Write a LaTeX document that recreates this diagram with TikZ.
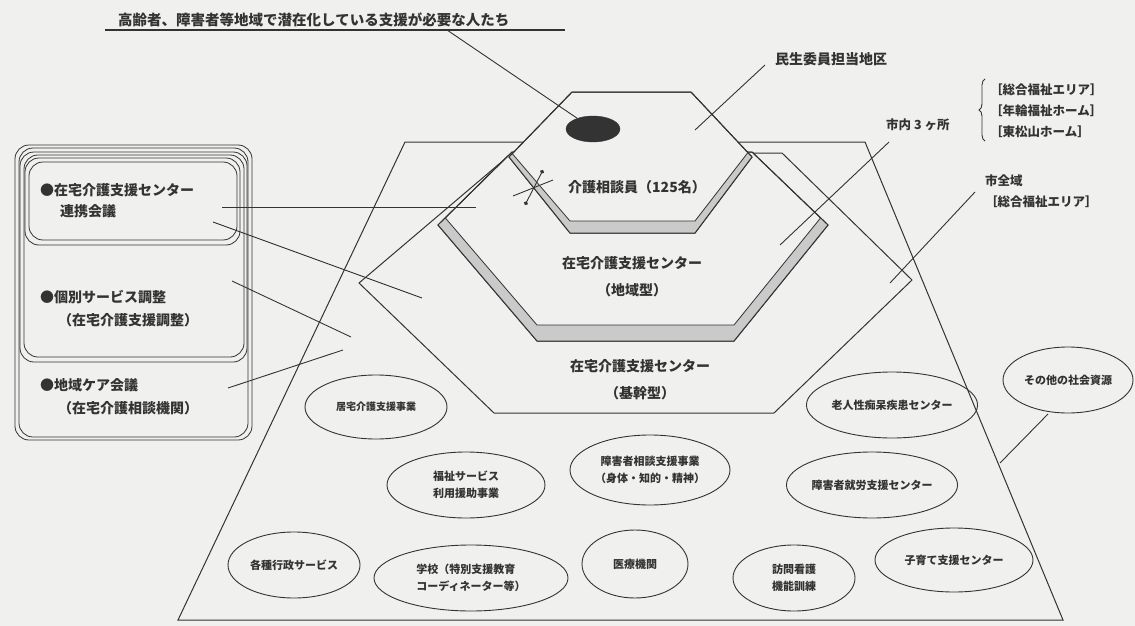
\documentclass[tikz,border=0pt]{standalone}
\usepackage{fontspec}
\setmainfont{Noto Sans CJK JP}
\usetikzlibrary{shapes.geometric,decorations.pathreplacing,arrows.meta}
\definecolor{bg}{HTML}{F0F0EE}
\definecolor{ink}{HTML}{333333}
\definecolor{band}{HTML}{CACACA}
\begin{document}
\begin{tikzpicture}[x=1pt,y=-1pt]
\tikzset{
  ln/.style={draw=ink, line width=0.9pt},
  plate/.style={draw=ink, line width=1pt, fill=bg},
  bandline/.style={draw=ink, line width=0.8pt},
  res/.style={draw=ink, line width=0.9pt, ellipse, inner sep=0pt, align=center,
     font=\bfseries\fontsize{11}{17}\selectfont, text=ink},
  big/.style={font=\bfseries\fontsize{14}{27}\selectfont, text=ink, inner sep=0pt, align=center},
  lbox/.style={font=\bfseries\fontsize{14}{20}\selectfont, text=ink, inner sep=0pt},
  mid/.style={font=\bfseries\fontsize{12.5}{21}\selectfont, text=ink, inner sep=0pt, align=left},
  boxline/.style={draw=ink, line width=0.8pt, rounded corners=14pt},
}
\fill[bg] (0,0) rectangle (1135,626);
\useasboundingbox (0,0) rectangle (1135,626);

% whole city trapezoid
\draw[plate] (178,620) -- (1063,620) -- (865,142) -- (405,142) -- cycle;

% H3 (kikan)
\draw[plate] (359,283) -- (512,153) -- (782,153) -- (912,280) -- (774,413) -- (494,413) -- cycle;

% H2 (chiiki)
\draw[plate] (438,225) -- (512,152) -- (752,152) -- (828,225) -- (734,341) -- (537,341) -- cycle;
\begin{scope}
  \clip (438,225) -- (512,152) -- (752,152) -- (828,225) -- (734,341) -- (537,341) -- cycle;
  \fill[band] (438,225) -- (537,341) -- (734,341) -- (828,225) -- (848,184) -- (734,325) -- (537,325) -- (418,186) -- cycle;
  \draw[bandline] (418,186) -- (537,325) -- (734,325) -- (848,184);
\end{scope}
\draw[ink, line width=1pt] (438,225) -- (512,152) -- (752,152) -- (828,225) -- (734,341) -- (537,341) -- cycle;

% H1
\draw[plate] (509,157) -- (572,92) -- (691,92) -- (752,157) -- (695,233) -- (570,233) -- cycle;
\begin{scope}
  \clip (509,157) -- (572,92) -- (691,92) -- (752,157) -- (695,233) -- (570,233) -- cycle;
  \fill[band] (509,157) -- (570,233) -- (695,233) -- (752,157) -- (770,124) -- (695,221) -- (570,221) -- (492,130) -- cycle;
  \draw[bandline] (492,130) -- (570,221) -- (695,221) -- (770,124);
\end{scope}
\draw[ink, line width=1pt] (509,157) -- (572,92) -- (691,92) -- (752,157) -- (695,233) -- (570,233) -- cycle;

% black ellipse (people)
\node[ellipse, fill=ink, draw=ink, minimum width=54pt, minimum height=26pt, inner sep=0pt] (blk) at (593,129) {};

% small double arrow
\draw[ln, {Circle[length=4pt]}-{Circle[length=4pt]}] (525,205) -- (543,170);
\draw[ln] (513,196) -- (553,180);

% left box
\draw[boxline] (15,145) rectangle (252,440);
\draw[boxline] (19,148) rectangle (248,437);
\draw[boxline] (20,152) rectangle (247,362);
\draw[boxline] (24,155) rectangle (244,357);
\draw[boxline] (25,158) rectangle (240,245);
\draw[boxline] (29,162) rectangle (237,240);
\node[lbox, anchor=west] (b1) at (40,190) {●在宅介護支援センター};
\node[lbox, anchor=west] (b1b) at (60,211) {連携会議};
\node[lbox, anchor=west] (b2) at (40,297) {●個別サービス調整};
\node[lbox, anchor=west] (b2b) at (58,320) {（在宅介護支援調整）};
\node[lbox, anchor=west] (b3) at (40,385) {●地域ケア会議};
\node[lbox, anchor=west] (b3b) at (58,408) {（在宅介護相談機関）};

% title
\node[lbox, anchor=south west, font=\bfseries\fontsize{14.5}{18}\selectfont] (title) at (118,27) {高齢者、障害者等地域で潜在化している支援が必要な人たち};
\coordinate (ul0) at (105,30);
\coordinate (ul1) at (565,30);
\draw[ln, line width=1.4pt] (ul0) -- (ul1);
\coordinate (tl) at (447,30);
\draw[ln] (tl) -- (blk);

% right labels
\node[lbox, anchor=west] (minsei) at (775,59) {民生委員担当地区};
\coordinate (ms0) at (765,65);
\coordinate (ms1) at (695,130);
\draw[ln] (ms0) -- (ms1);

\node[mid, anchor=west] (shinai) at (886,125) {市内 3 ヶ所};
\draw[decorate, decoration={brace, amplitude=6pt}, ln] (985,141) -- (985,79);
\node[mid, anchor=west] (areas) at (990,111) {［総合福祉エリア］\\［年輪福祉ホーム］\\［東松山ホーム］};
\coordinate (sn0) at (889,142);
\coordinate (sn1) at (780,245);
\draw[ln] (sn0) -- (sn1);

\node[mid, anchor=west] (zen) at (985,191) {市全域\\［総合福祉エリア］};
\coordinate (zn0) at (975,192);
\coordinate (zn1) at (890,283);
\draw[ln] (zn0) -- (zn1);

% plate labels
\node[big] (sodan) at (637,187) {介護相談員（125名）};
\node[big] (chiiki) at (632,277) {在宅介護支援センター\\（地域型）};
\node[big] (kikan) at (640,380) {在宅介護支援センター\\（基幹型）};

% resources
\node[res, minimum width=142pt, minimum height=64pt, font=\bfseries\fontsize{10}{15}\selectfont] (r1) at (376,407) {居宅介護支援事業};
\node[res, minimum width=158pt, minimum height=66pt] (r2) at (466,485) {福祉サービス\\利用援助事業};
\node[res, minimum width=160pt, minimum height=70pt] (r3) at (650,470) {障害者相談支援事業\\（身体・知的・精神）};
\node[res, minimum width=160pt, minimum height=66pt] (r4) at (892,405) {老人性痴呆疾患センター};
\node[res, minimum width=160pt, minimum height=66pt] (r5) at (872,485) {障害者就労支援センター};
\node[res, minimum width=130pt, minimum height=66pt] (r6) at (1068,380) {その他の社会資源};
\node[res, minimum width=132pt, minimum height=66pt] (r7) at (294,565) {各種行政サービス};
\node[res, minimum width=194pt, minimum height=66pt, align=left] (r8) at (471,578) {学校（特別支援教育\\コーディネーター等）};
\node[res, minimum width=106pt, minimum height=68pt] (r9) at (635,564) {医療機関};
\node[res, minimum width=122pt, minimum height=66pt] (r10) at (794,578) {訪問看護\\機能訓練};
\node[res, minimum width=158pt, minimum height=64pt] (r11) at (954,560) {子育て支援センター};

\coordinate (so0) at (1048,414);
\coordinate (so1) at (1000,463);
\draw[ln] (so0) -- (so1);

% leaders from left box
\coordinate (a0) at (222,207); \coordinate (a1) at (476,207);
\draw[ln] (a0) -- (a1);
\coordinate (c0) at (213,222); \coordinate (c1) at (422,298);
\draw[ln] (c0) -- (c1);
\coordinate (d0) at (232,281); \coordinate (d1) at (351,337);
\draw[ln] (d0) -- (d1);
\coordinate (e0) at (228,388); \coordinate (e1) at (343,350);
\draw[ln] (e0) -- (e1);
\end{tikzpicture}
\end{document}
